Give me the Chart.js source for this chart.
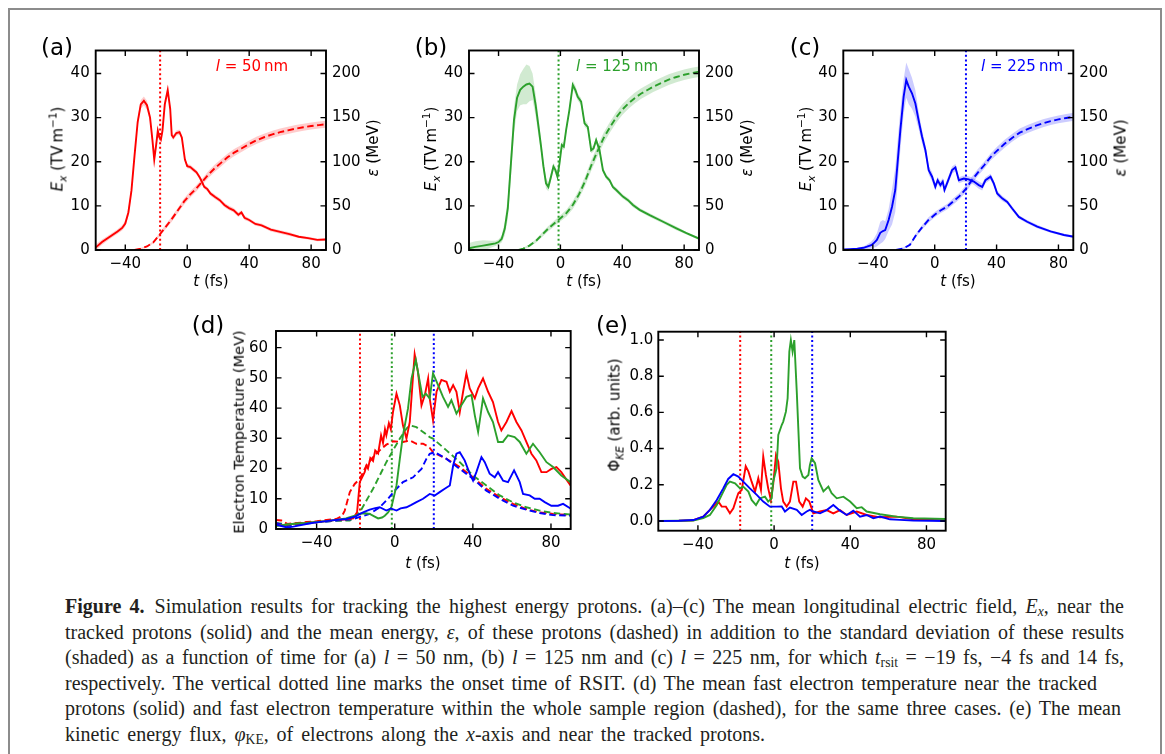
<!DOCTYPE html>
<html><head><meta charset="utf-8">
<script src="https://cdn.jsdelivr.net/npm/chart.js@4.4.0/dist/chart.umd.min.js"></script>
<style>
body{margin:0;background:#fff;}
#wrap{position:relative;width:1165px;height:754px;overflow:hidden;background:#fff;}
.frame{position:absolute;left:8px;top:8px;width:1150px;height:780px;border:2px solid #8c8c8c;}
.cv{position:absolute;}
.t{position:absolute;font-family:'DejaVu Sans';color:#000;white-space:nowrap;line-height:1;transform:translate(-50%,-50%);}
.rot{transform:translate(-50%,-50%) rotate(-90deg);}
.t sub,.t sup{font-size:70%;line-height:0;}
.cap{position:absolute;left:65px;font-family:'Liberation Serif';font-size:20px;color:#231f20;line-height:25px;height:25px;white-space:nowrap;}
.cap sub{font-size:68%;line-height:0;vertical-align:-0.25em;}
</style>
</head><body>
<div id="wrap">
<div class="frame"></div>
<canvas id="ca" class="cv" width="360" height="270" style="left:30px;top:30px"></canvas>
<canvas id="cb" class="cv" width="370" height="270" style="left:400px;top:30px"></canvas>
<canvas id="cc" class="cv" width="380" height="270" style="left:770px;top:30px"></canvas>
<canvas id="cd" class="cv" width="400" height="280" style="left:180px;top:300px"></canvas>
<canvas id="ce" class="cv" width="380" height="280" style="left:580px;top:300px"></canvas>

<div class="t" style="left:57px;top:47px;font-size:23px">(a)</div>
<div class="t" style="left:431px;top:47px;font-size:23px">(b)</div>
<div class="t" style="left:805px;top:47px;font-size:23px">(c)</div>
<div class="t" style="left:208px;top:325px;font-size:23px">(d)</div>
<div class="t" style="left:612px;top:325px;font-size:23px">(e)</div>

<div class="t" style="left:252px;top:66px;font-size:15px;color:#ff0000"><i>l</i> = 50&#8201;nm</div>
<div class="t" style="left:617px;top:66px;font-size:15px;color:#2ca02c"><i>l</i> = 125&#8201;nm</div>
<div class="t" style="left:1022px;top:66px;font-size:15px;color:#0000ff"><i>l</i> = 225&#8201;nm</div>

<div class="t rot" style="left:58px;top:149px;font-size:15px"><i>E<sub>x</sub></i> (TV&#8201;m<sup>−1</sup>)</div>
<div class="t rot" style="left:431px;top:149px;font-size:15px"><i>E<sub>x</sub></i> (TV&#8201;m<sup>−1</sup>)</div>
<div class="t rot" style="left:806px;top:149px;font-size:15px"><i>E<sub>x</sub></i> (TV&#8201;m<sup>−1</sup>)</div>
<div class="t rot" style="left:373px;top:148px;font-size:15px"><i>ε</i> (MeV)</div>
<div class="t rot" style="left:747px;top:148px;font-size:15px"><i>ε</i> (MeV)</div>
<div class="t rot" style="left:1121px;top:148px;font-size:15px"><i>ε</i> (MeV)</div>
<div class="t" style="left:211px;top:281px;font-size:15px"><i>t</i> (fs)</div>
<div class="t" style="left:584px;top:281px;font-size:15px"><i>t</i> (fs)</div>
<div class="t" style="left:958px;top:281px;font-size:15px"><i>t</i> (fs)</div>
<div class="t rot" style="left:239px;top:432px;font-size:14.5px">Electron Temperature (MeV)</div>
<div class="t rot" style="left:615px;top:415px;font-size:15px">Φ<sub><i>KE</i></sub> (arb. units)</div>
<div class="t" style="left:423px;top:563px;font-size:15px"><i>t</i> (fs)</div>
<div class="t" style="left:802px;top:563px;font-size:15px"><i>t</i> (fs)</div>

<div class="cap" data-w="1059" style="top:594px"><b>Figure 4.</b>&ensp;Simulation results for tracking the highest energy protons. (a)–(c) The mean longitudinal electric field, <i>E<sub>x</sub></i>, near the</div>
<div class="cap" data-w="1059" style="top:619.5px">tracked protons (solid) and the mean energy, <i>ε</i>, of these protons (dashed) in addition to the standard deviation of these results</div>
<div class="cap" data-w="1059" style="top:645px">(shaded) as a function of time for (a) <i>l</i> = 50 nm, (b) <i>l</i> = 125 nm and (c) <i>l</i> = 225 nm, for which <i>t</i><sub>rsit</sub> = −19 fs, −4 fs and 14 fs,</div>
<div class="cap" data-w="1032" style="top:670.5px">respectively. The vertical dotted line marks the onset time of RSIT. (d) The mean fast electron temperature near the tracked</div>
<div class="cap" data-w="1056" style="top:696px">protons (solid) and fast electron temperature within the whole sample region (dashed), for the same three cases. (e) The mean</div>
<div class="cap" data-w="700" style="top:721.5px">kinetic energy flux, <i>φ</i><sub>KE</sub>, of electrons along the <i>x</i>-axis and near the tracked protons.</div>
</div>

<script>
// ---------- tick labels ----------
const xTicks = [-40, 0, 40, 80];
const yTicksABC = [0, 10, 20, 30, 40];
const y2TicksABC = [0, 50, 100, 150, 200];
const yTicksD = [0, 10, 20, 30, 40, 50, 60];
const yTicksE = [0, 0.2, 0.4, 0.6, 0.8, 1.0];
// onset (RSIT) dotted lines as drawn
const onsetA = -17.5, onsetB = -1.2, onsetC = 20.2;
const onsetD = [-17.8, -1.5, 20.0];

// ---------- panel (a) l = 50 nm ----------
const tA = [-59,-55,-50,-45,-42,-40,-38,-36,-34,-32,-30,-28,-26,-24,-22.5,-21.3,-20,-19,-18,-17,-16,-14.5,-12.6,-11,-10,-9,-7,-5,-3.5,-1.5,0,2,4,6,8,9,11,13,15,18,21,24,27,30,33,35,37,40,44,48,54,60,66,72,78,84,90];
const exA = [0.6,1.8,3.0,4.2,5.0,6.0,8.5,13.5,21.5,29.0,33.0,33.8,32.8,30.0,25.0,20.5,24.0,27.0,25.5,25.0,27.0,33.0,36.2,32.0,26.0,25.5,26.5,26.7,25.5,20.5,19.0,18.8,18.2,17.6,16.5,15.8,14.3,13.8,12.8,12.0,11.3,10.2,9.5,9.0,8.0,8.5,7.3,6.8,5.9,5.6,4.6,4.1,3.6,3.0,2.7,2.3,2.4];
const exAsd = [0.7,0.6,0.5,0.5,0.6,0.7,0.8,0.8,0.8,0.9,1.0,1.0,1.0,0.9,1.0,1.3,1.0,0.9,0.8,0.8,0.8,1.0,1.0,0.8,0.7,0.6,0.6,0.6,0.6,0.5,0.5,0.5,0.5,0.5,0.5,0.5,0.5,0.5,0.5,0.5,0.5,0.5,0.5,0.5,0.5,0.5,0.5,0.4,0.4,0.4,0.4,0.4,0.4,0.3,0.3,0.3,0.3];
const tAe = [-34,-30,-26,-22,-18,-14,-10,-6,-2,2,6,10,14,18,22,26,30,35,40,45,50,55,60,65,70,75,80,85,90];
const enA = [0,1.5,4,8.5,17,26,35,45,55,63,70,78,86,93,99,105,110,115,120,124.5,128,131,133.5,135.5,137.5,139,140.5,141.5,142.5];
const enAsd = [0.5,0.8,1,1.5,2,2.5,3,3,3.5,3.5,3.5,3.5,4,4,4,4,4,4,4,4,4,4,4,4,4,4,4,4,4];

// ---------- panel (b) l = 125 nm ----------
const tB = [-59,-55,-50,-45,-42,-40,-38,-36,-34,-32,-30,-28,-26,-24,-22,-20,-18,-16,-14,-12.5,-11,-9.3,-7.8,-6.1,-4.5,-3.2,-1.9,-0.6,0.9,2.2,3.7,5.8,8,9.7,11.2,13.4,15.6,17.7,19.9,21.4,23.1,25.3,27.5,29.6,31.8,33.9,36.1,40.4,43.7,46.9,51.2,57.7,66.4,75,81.5,89.5];
const exB = [0.4,0.7,1.0,1.3,1.5,1.8,2.5,4.8,9.5,19.6,29.5,34.5,36.3,37.0,37.5,37.7,37.0,32.8,27.5,23.4,19.0,15.1,14.3,16.6,18.9,18.1,16.6,19.6,23.8,23.4,27.2,31.7,37.4,36.2,34.7,33.6,28.7,27.9,22.6,23.0,24.9,22.6,18.1,16.6,15.8,14.3,13.6,12.1,11.3,10.2,9.1,7.9,6.4,4.9,3.8,2.6];
const exBsd = [1.2,1.3,1.2,0.8,0.6,0.6,0.8,1.5,2.5,3.0,3.0,3.0,3.5,4.0,4.5,4.0,3.0,2.5,2.0,1.5,1.2,1.2,1.0,1.0,0.8,0.8,0.8,0.8,0.8,0.8,0.8,0.8,1.0,1.0,0.8,0.8,0.8,0.7,0.7,0.7,0.7,0.6,0.6,0.5,0.5,0.5,0.5,0.5,0.5,0.5,0.4,0.4,0.4,0.4,0.3,0.3];
const tBe = [-27,-24,-20,-16,-12,-8,-4,0,4,8,12,16,20,24,28,32,36,40,44,48,52,56,60,65,70,75,80,85,89.5];
const enB = [0,1.5,5,10,17,24,30,36,42,51,63,78,96,112,127,139,150,159,166,172,177,181,185,189,193,196,198.5,200.5,202];
const enBsd = [0.5,1,1.5,2,2.5,3,3,3.5,4,4.5,5,5.5,6,6,6,6,6,6,6,6,6,6,6,6,6,6,6,6,6];

// ---------- panel (c) l = 225 nm ----------
const tC = [-59,-55,-50,-46,-43.8,-41,-39.5,-37.4,-35.2,-33.5,-32,-29.8,-27.6,-25.5,-24.4,-22.2,-20.1,-18.4,-16.8,-14.7,-12.5,-10.4,-8.2,-6,-3.9,-1.7,0.4,1.9,3.7,5.2,6.3,8.4,11.2,13.4,15.6,18.8,22,25.3,28.5,30.7,32.8,36.1,38.2,40.4,43.6,46.9,50.1,54.4,59.8,66.3,74.9,83.6,90];
const exC = [0.15,0.2,0.3,0.5,0.75,1.1,1.5,2.3,3.9,4.3,4.5,6.8,9.8,13.6,18.1,27.2,34.7,38.5,37.0,35.5,33.2,29.4,25.7,22.6,18.1,16.6,14.3,15.8,14.7,15.5,13.6,15.5,18.1,18.7,15.8,16.2,16.0,15.5,14.7,14.3,15.8,16.6,15.1,12.8,11.7,10.9,9.4,7.5,6.4,5.3,4.2,3.4,3.0];
const exCsd = [0.1,0.1,0.2,0.3,0.5,0.8,1.0,1.5,2.5,2.5,2.0,2.5,4.0,5.0,5.0,4.5,4.0,4.0,4.0,3.5,3.0,2.0,1.5,1.2,1.0,1.0,0.8,0.8,0.8,0.8,0.8,0.8,0.8,0.8,0.7,0.7,0.7,0.7,0.8,0.8,0.7,0.7,0.7,0.6,0.6,0.5,0.5,0.4,0.4,0.4,0.3,0.3,0.3];
const tCe = [-25,-20,-16,-12,-8,-4,0,4,8,12,16,20,24,28,32,36,40,45,50,55,60,65,70,75,80,85,90];
const enC = [0,2,6,17,26,34,40,45,49,55,61,69,79,88,96,105,112,120,127,133,137,140.5,143.5,146,148,149.5,151];
const enCsd = [0.5,1,1.5,2,2.5,3,3,3,3,3.5,3.5,4,4,4,4,4,4.5,4.5,4.5,4.5,4.5,4.5,4.5,4.5,4.5,4.5,4.5];

// ---------- panel (d) electron temperature ----------
const tDr = [-61,-58,-55,-50,-45,-40,-35,-30,-25,-21.3,-19.3,-17.9,-15.4,-14.5,-13.7,-12.5,-11.1,-10,-8.5,-7,-6,-5,-4.3,-3,-2,-0.9,0.9,2.6,4.2,6,7.7,9.4,10.2,11.9,13.7,15.4,17.1,17.9,19.6,21.4,23.9,26.5,28.2,29.9,31.6,33.3,35,36.7,38.4,41,42.7,45.2,47.8,50.3,52.9,54.6,57.2,59.8,62.3,64.9,67.4,70,72.5,75.1,77.7,80.2,82.8,85.3,90];
const TDr = [1.5,1.2,1.5,1.8,2.0,2.3,2.6,3.0,3.2,3.5,5.5,15.5,18.8,21.0,20.0,23.5,22.5,26.0,25.0,31.0,28.5,33.0,31.0,35.0,33.0,38.7,44.8,40.9,34.3,29.9,35.4,50.9,57.8,52.0,40.9,44.3,49.8,43.2,36.0,45.4,49.3,48.7,45.4,47.6,45.4,38.7,45.4,51.5,46.5,43.2,46.5,49.8,45.4,42.0,35.4,32.6,35.4,39.0,35.4,32.6,28.8,24.9,22.7,18.8,18.8,19.9,20.5,18.8,14.4];
const tDg = [-61,-55,-50,-45,-40,-35,-30,-25,-23,-20,-17.9,-15,-12.8,-10.5,-8.5,-6.5,-5.1,-3.4,-1.7,0.9,2.6,4.2,6.8,8.6,10.8,12.5,14.2,15.9,17.9,19.6,22.2,24.7,27.3,29,31.6,34.1,36.7,39.3,41,42.7,45.2,47.8,50.3,52.9,55.4,58,61.4,64,67.4,70.8,74.2,77.7,81.1,85.3,90];
const TDg = [1.0,1.5,1.8,2.0,2.3,2.6,3.0,3.5,3.9,4.5,5.0,5.2,5.0,4.2,3.5,3.8,4.4,5.5,7.2,14.4,23.2,31.0,39.9,49.8,55.9,49.8,43.7,44.8,43.2,51.5,47.6,43.7,40.4,42.6,38.2,40.9,43.7,44.3,37.6,32.1,43.2,38.7,35.4,28.8,28.8,31.0,30.4,28.8,24.9,28.2,25.4,22.1,20.5,17.7,15.5];
const tDb = [-61,-58,-55,-52,-48,-44,-40,-35,-30,-24.7,-20,-17.9,-15,-12.8,-10,-7.7,-4.3,-2,0.9,3,6,8.5,11.1,14.5,17.9,20.5,23,25.6,28.2,29.9,31.6,33.3,35.8,38.4,40.1,41.8,44.4,46.1,48.6,51.2,52.9,55.5,58,61.1,64,65.7,69.1,71.7,74.2,76.8,80.2,83.6,86.2,90];
const TDb = [1.5,1.0,0.5,0.8,1.3,1.8,2.2,2.6,3.0,3.3,4.2,5.0,5.8,6.4,6.9,7.2,6.1,6.8,6.1,6.8,7.2,8.0,8.9,10.0,11.6,11.1,12.2,13.3,14.4,21.0,24.9,25.4,22.7,18.3,16.0,18.8,23.8,22.1,18.3,17.1,18.8,16.0,15.5,19.4,15.5,11.6,11.1,10.0,10.0,8.9,7.7,7.7,8.3,6.8];
const tDrd = [-61,-58,-55,-50,-45,-40,-35,-30,-27,-25.6,-23,-20.5,-17.9,-14.5,-11.1,-7.7,-4.3,-0.9,4.2,7.7,11.1,14.5,17.6,19.6,26.5,33.3,40.1,46.9,53.8,60.6,67.4,74.2,81.1,90];
const TDrd = [3.0,2.8,1.7,2.0,2.3,2.6,3.0,3.3,4.3,6.1,12.2,14.9,16.6,21.0,23.8,26.0,27.9,29.0,28.8,29.3,28.2,28.2,27.1,25.4,23.2,20.5,17.1,13.3,10.5,8.3,6.6,5.5,5.0,4.6];
const tDgd = [-61,-55,-50,-45,-40,-35,-30,-23,-17.9,-14.5,-11.1,-7.7,-4.3,-0.9,2.6,6,7.7,11.1,14.5,17.9,19.6,26.5,33.3,40.1,46.9,53.8,60.6,67.4,74.2,81.1,90];
const TDgd = [2.0,1.6,1.8,2.0,2.3,2.5,2.7,2.8,5.5,9.4,13.3,17.7,22.1,26.0,29.9,33.2,34.3,33.7,32.1,30.4,29.9,26.0,22.1,17.7,14.4,11.1,8.8,7.2,6.1,5.3,4.8];
const tDbd = [-61,-55,-50,-45,-40,-35,-29.9,-21.3,-12.8,-7.7,-3.4,0,4.2,9.4,13.7,16.2,17.9,20.5,26.5,33.3,40.1,46.9,53.8,60.6,67.4,74.2,81.1,90];
const TDbd = [2.0,1.0,1.5,1.8,2.2,2.5,2.8,3.3,5.0,7.2,10.0,12.7,15.5,17.1,19.9,23.2,24.9,25.4,23.2,19.9,16.6,12.7,10.0,7.7,6.4,5.3,4.6,4.4];

// ---------- panel (e) kinetic energy flux ----------
const tEr = [-61,-50,-42.4,-37.2,-33.7,-31,-29.3,-27.5,-25.3,-23.2,-21.4,-20,-18.8,-17,-14.9,-13.5,-11.8,-10,-8.3,-6.9,-5.7,-4.3,-3.1,-1.7,-0.5,1.0,2.2,3.6,4.8,6.6,8.3,10.1,11.5,13.2,15,16.7,18.5,20.6,24.1,27.6,31.1,34.6,38.1,43.4,48.6,55.6,64.3,73.1,90];
const PhiR = [0,0.001,0.004,0.024,0.061,0.088,0.107,0.079,0.079,0.042,0.07,0.116,0.153,0.171,0.302,0.274,0.217,0.162,0.236,0.171,0.356,0.254,0.18,0.116,0.199,0.365,0.328,0.18,0.107,0.079,0.107,0.217,0.217,0.107,0.079,0.125,0.107,0.042,0.052,0.06,0.042,0.06,0.033,0.052,0.033,0.02,0.024,0.009,0.002];
const tEg = [-61,-50,-42.4,-37.2,-33.7,-30.1,-27.5,-24.9,-23.2,-20.5,-17.9,-16.2,-13.5,-11.8,-9.5,-7.4,-4.8,-3.1,-1.3,-0.5,1.3,2.2,4.0,4.8,6.2,7.1,8.0,8.8,9.7,10.6,11.9,13.6,15,16.2,18,18.8,19.7,21.5,23.2,25.9,28.5,30.2,32.9,36.4,39.9,43.4,46,48.6,55.6,64.3,73.1,90];
const PhiG = [0,0.001,0.002,0.015,0.033,0.088,0.144,0.199,0.217,0.208,0.18,0.19,0.162,0.116,0.088,0.125,0.134,0.107,0.125,0.217,0.291,0.475,0.53,0.549,0.604,0.678,0.936,1.0,0.936,1.0,0.715,0.291,0.245,0.236,0.254,0.31,0.346,0.319,0.227,0.163,0.19,0.153,0.125,0.134,0.107,0.07,0.076,0.052,0.037,0.024,0.015,0.011];
const tEb = [-61,-50,-42.4,-37.2,-33.7,-30.1,-26.7,-24.1,-21.4,-18.8,-16.2,-12.7,-9.1,-5.7,-2.2,1.3,4.0,5.7,8.3,11.9,14.5,17.1,18.8,20.6,24.1,27.6,31.1,34.6,38.1,41.6,45.1,48.6,52.1,55.6,60.8,66.1,73.1,90];
const PhiB = [0,0.001,0.005,0.024,0.061,0.116,0.18,0.232,0.258,0.245,0.217,0.18,0.144,0.107,0.079,0.079,0.08,0.052,0.074,0.061,0.033,0.052,0.061,0.052,0.042,0.06,0.088,0.057,0.033,0.057,0.024,0.033,0.015,0.024,0.009,0.006,0.002,0];

// ---------- helpers ----------
const RED = '#ff0000', GREEN = '#2ca02c', BLUE = '#0000ff';
const SH = {red:'rgba(255,0,0,0.2)', green:'rgba(44,160,44,0.22)', blue:'rgba(0,0,255,0.2)'};
const pts = (xs, ys) => xs.map((x, i) => ({x, y: ys[i]}));
const shifted = (xs, ys, sd, s) => xs.map((x, i) => ({x, y: ys[i] + s * sd[i]}));
const minus = v => (v < 0 ? '\u2212' : '') + Math.abs(v);

function solid(data, color, axis){ return {data, borderColor: color, borderWidth: 1.9, yAxisID: axis || 'y', order: 0}; }
function dashed(data, color, axis){ return {data, borderColor: color, borderWidth: 1.9, borderDash: [6.5, 3.5], yAxisID: axis || 'y', order: 0}; }
function vline(x, y0, y1, color){ return {data: [{x, y: y0}, {x, y: y1}], borderColor: color, borderWidth: 2, borderDash: [2, 2.6], yAxisID: 'y', order: 0}; }
function bandPair(xs, ys, sd, shade, axis){
  return [
    {data: shifted(xs, ys, sd, -1), borderColor: 'transparent', borderWidth: 0, yAxisID: axis || 'y', order: 2, fill: false},
    {data: shifted(xs, ys, sd, 1), borderColor: 'transparent', borderWidth: 0, yAxisID: axis || 'y', order: 2, fill: '-1', backgroundColor: shade}
  ];
}

const inTicks = {
  id: 'inTicks',
  afterDraw(chart){
    const {ctx, chartArea: a, scales: s} = chart;
    const L = 5.5;
    ctx.save();
    ctx.strokeStyle = '#000'; ctx.lineWidth = 1.4;
    ctx.beginPath();
    s.x.ticks.forEach(t => { const p = s.x.getPixelForValue(t.value);
      ctx.moveTo(p, a.bottom); ctx.lineTo(p, a.bottom - L); ctx.moveTo(p, a.top); ctx.lineTo(p, a.top + L); });
    s.y.ticks.forEach(t => { const p = s.y.getPixelForValue(t.value);
      ctx.moveTo(a.left, p); ctx.lineTo(a.left + L, p);
      if (!s.y2) { ctx.moveTo(a.right, p); ctx.lineTo(a.right - L, p); } });
    if (s.y2) s.y2.ticks.forEach(t => { const p = s.y2.getPixelForValue(t.value);
      ctx.moveTo(a.right, p); ctx.lineTo(a.right - L, p); });
    ctx.stroke();
    ctx.lineWidth = 1.9;
    ctx.strokeRect(a.left, a.top, a.right - a.left, a.bottom - a.top);
    ctx.restore();
  }
};

function opts(p){
  const font = {family: 'DejaVu Sans', size: 15};
  const scales = {
    x: {type: 'linear', min: p.xmin, max: p.xmax, grid: {display: false, drawTicks: false}, border: {display: false},
        afterBuildTicks: s => { s.ticks = xTicks.map(v => ({value: v})); },
        afterFit: s => { s.height = p.xh; },
        ticks: {font, color: '#000', padding: 5, maxRotation: 0, autoSkip: false, callback: v => minus(v)}},
    y: {type: 'linear', position: 'left', min: p.ymin, max: p.ymax, grid: {display: false, drawTicks: false}, border: {display: false},
        afterBuildTicks: s => { s.ticks = p.yt.map(v => ({value: v})); },
        afterFit: s => { s.width = p.yw; },
        ticks: {font, color: '#000', padding: p.ypad, autoSkip: false, callback: p.fmt || (v => minus(v))}}
  };
  if (p.y2w) scales.y2 = {type: 'linear', position: 'right', min: 0, max: p.ymax * 5, grid: {display: false, drawTicks: false}, border: {display: false},
        afterBuildTicks: s => { s.ticks = y2TicksABC.map(v => ({value: v})); },
        afterFit: s => { s.width = p.y2w; },
        ticks: {font, color: '#000', padding: 6, autoSkip: false}};
  return {responsive: false, animation: false, events: [],
    layout: {padding: {top: p.pt, right: p.pr || 0, left: 0, bottom: 0}},
    plugins: {legend: {display: false}, tooltip: {enabled: false}},
    elements: {point: {radius: 0}, line: {tension: 0}},
    scales};
}

function mk(id, datasets, p){
  new Chart(document.getElementById(id), {type: 'line', data: {datasets}, options: opts(p), plugins: [inTicks]});
}

const YMAX = 45.2;
const abc = [
  ['ca', tA, exA, exAsd, tAe, enA, enAsd, RED, SH.red, onsetA, {yw: 65.7, y2w: 64}],
  ['cb', tB, exB, exBsd, tBe, enB, enBsd, GREEN, SH.green, onsetB, {yw: 69, y2w: 71}],
  ['cc', tC, exC, exCsd, tCe, enC, enCsd, BLUE, SH.blue, onsetC, {yw: 73.3, y2w: 76.7}]
];
abc.forEach(([id, t, e, esd, te, en, ensd, col, sh, on, g]) => {
  mk(id, [
    solid(pts(t, e), col),
    dashed(pts(te, en), col, 'y2'),
    vline(on, 0, YMAX, col),
    ...bandPair(t, e, esd, sh),
    ...bandPair(te, en, ensd, sh, 'y2')
  ], Object.assign({xmin: -59.1, xmax: 89.6, ymin: 0, ymax: YMAX, yt: yTicksABC, xh: 50, pt: 20.5, ypad: 6}, g));
});

mk('cd', [
  solid(pts(tDb, TDb), BLUE), solid(pts(tDg, TDg), GREEN), solid(pts(tDr, TDr), RED),
  dashed(pts(tDbd, TDbd), BLUE), dashed(pts(tDgd, TDgd), GREEN), dashed(pts(tDrd, TDrd), RED),
  vline(onsetD[0], 0, 65.5, RED), vline(onsetD[1], 0, 65.5, GREEN), vline(onsetD[2], 0, 65.5, BLUE)
], {xmin: -60.8, xmax: 90.1, ymin: 0, ymax: 65.5, yt: yTicksD, yw: 96, pr: 9.3, xh: 51, pt: 31, ypad: 8});

mk('ce', [
  solid(pts(tEb, PhiB), BLUE), solid(pts(tEg, PhiG), GREEN), solid(pts(tEr, PhiR), RED),
  vline(onsetD[0], -0.054, 1.046, RED), vline(onsetD[1], -0.054, 1.046, GREEN), vline(onsetD[2], -0.054, 1.046, BLUE)
], {xmin: -60.8, xmax: 90.1, ymin: -0.054, ymax: 1.046, yt: yTicksE, yw: 78.3, pr: 14.3, xh: 49.3, pt: 31.7, ypad: 5, fmt: v => v.toFixed(1)});

// caption lines: spread words so each line ends where it does in the figure
document.querySelectorAll('.cap').forEach(el => {
  const target = +el.dataset.w;
  const natural = el.getBoundingClientRect().width;
  const spaces = (el.textContent.match(/ /g) || []).length;
  if (spaces) el.style.wordSpacing = ((target - natural) / spaces) + 'px';
});
</script>
</body></html>
